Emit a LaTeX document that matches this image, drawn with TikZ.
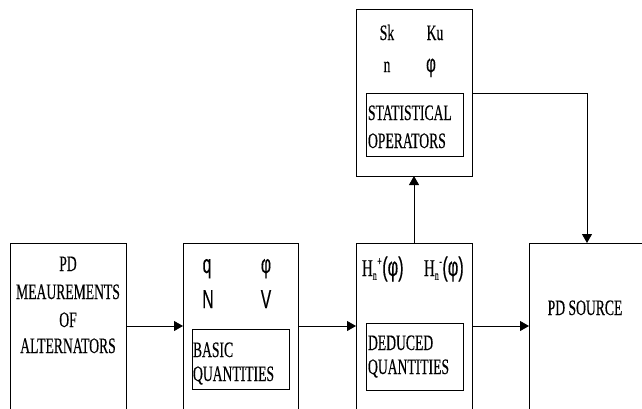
\documentclass[tikz,border=0pt]{standalone}
\usepackage{fontspec}
\setmainfont{Liberation Serif}[FakeStretch=0.62, FakeBold=0.35]
\newfontfamily\sansc{Liberation Sans}[FakeStretch=0.6, FakeBold=0.3]
\usetikzlibrary{arrows.meta}
\newcommand\hsym[1]{{\fontsize{24}{24}\selectfont H}\rlap{\raisebox{-3.5pt}{\fontsize{13}{13}\selectfont n}}\kern4.5pt\raisebox{10.5pt}{\fontsize{13}{13}\selectfont #1}\kern0.5pt{\sansc\fontsize{27}{27}\selectfont(φ)}}
\begin{document}
\begin{tikzpicture}[x=1pt,y=-1pt,
  box/.style={draw, line width=0.8pt, inner sep=0pt, outer sep=0pt, anchor=north west},
  txt/.style={inner sep=0pt, outer sep=0pt, anchor=base, font=\fontsize{22}{26}\selectfont},
  ltxt/.style={txt, anchor=base west},
  stxt/.style={inner sep=0pt, outer sep=0pt, anchor=base, font=\sansc\fontsize{26}{30}\selectfont},
  arr/.style={line width=0.8pt, -{Triangle[length=9pt,width=10pt]}}]
\useasboundingbox (0,0) rectangle (642,408);
\clip (0,0) rectangle (642,408);
% main boxes
\node[box, minimum width=116pt, minimum height=180pt] (alt) at (10,243) {};
\node[box, minimum width=115pt, minimum height=180pt] (basic) at (183,243) {};
\node[box, minimum width=116pt, minimum height=180pt] (ded) at (356,243) {};
\node[box, minimum width=130pt, minimum height=180pt] (src) at (529,243) {};
\node[box, minimum width=116pt, minimum height=167pt] (stat) at (356,9) {};
% inner boxes
\node[box, minimum width=97pt, minimum height=60pt] (ibasic) at (192,329) {};
\node[box, minimum width=97pt, minimum height=67pt] (ided) at (366,323) {};
\node[box, minimum width=97pt, minimum height=63pt] (istat) at (366,93) {};
% texts box 1
\node[txt] (t1) at (68,271) {PD};
\node[txt] (t2) at (68,299) {MEAUREMENTS};
\node[txt] (t3) at (68,327) {OF};
\node[txt] (t4) at (68,353) {ALTERNATORS};
% box 2
\node[stxt] (tq) at (207,273) {q};
\node[stxt] (tphi) at (266,273) {φ};
\node[stxt] (tN) at (208,308) {N};
\node[stxt] (tV) at (266,308) {V};
\node[ltxt] (tb1) at (193,357) {BASIC};
\node[ltxt] (tb2) at (193,381) {QUANTITIES};
% box 3
\node[txt, anchor=base west] (th1) at (362,276) {\hsym{+}};
\node[txt, anchor=base west] (th2) at (424,276) {\hsym{-}};
\node[ltxt] (td1) at (368,350) {DEDUCED};
\node[ltxt] (td2) at (368,374) {QUANTITIES};
% statistical box
\node[txt] (tsk) at (387,40) {Sk};
\node[txt] (tku) at (435,40) {Ku};
\node[txt] (tn) at (387,72) {n};
\node[txt] (tph) at (431,72) {\sansc\fontsize{25}{25}\selectfont φ};
\node[ltxt] (ts1) at (368,120) {STATISTICAL};
\node[ltxt] (ts2) at (368,148) {OPERATORS};
% source
\node[txt] (tsrc) at (585,315) {PD SOURCE};
% connectors
\coordinate (ya) at (0,326);
\coordinate (tc) at (587,93);
\draw[arr] (alt.east |- ya) -- (basic.west |- ya);
\draw[arr] (basic.east |- ya) -- (ded.west |- ya);
\draw[arr] (ded.east |- ya) -- (src.west |- ya);
\draw[arr] (ded.north) -- (stat.south);
\draw[arr] (stat.east |- tc) -| (src.north -| tc);
\end{tikzpicture}
\end{document}
